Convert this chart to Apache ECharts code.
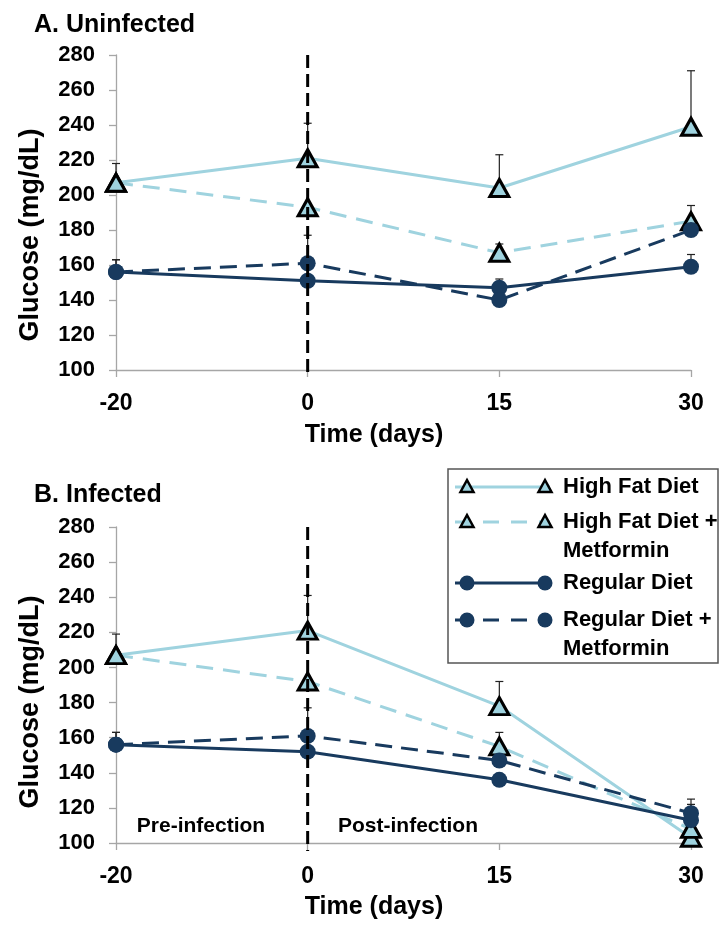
<!DOCTYPE html>
<html>
<head>
<meta charset="utf-8">
<script src="https://cdn.jsdelivr.net/npm/echarts@6/dist/echarts.min.js"></script>
<style>
  html, body { margin: 0; padding: 0; background: #ffffff; }
  #chart { width: 720px; height: 925px; }
</style>
</head>
<body>
<div id="chart"></div>
<script>
// Sampling days (categories on the time axis)
const days = ['-20', '0', '15', '30'];
const infectionDay = '0';

// Glucose axis range (mg/dL)
const glucoseMin = 100;
const glucoseMax = 280;
const glucoseStep = 20;

// A. Uninfected — mean glucose
const uninfHighFat = [207, 221, 204, 239];
const uninfHighFatMet = [207, 193, 167, 185];
const uninfRegular = [156, 151, 147, 159];
const uninfRegularMet = [156, 161, 140, 180];
// A. Uninfected — upper end of error bars (null where not shown)
const uninfHighFatErr = [218, 241, 223, 271];
const uninfHighFatMetErr = [null, null, 172, 194];
const uninfRegularErr = [163, null, 152, 166];
const uninfRegularMetErr = [163, 177, null, null];

// B. Infected — mean glucose
const infHighFat = [207, 221, 178, 103];
const infHighFatMet = [207, 192, 155, 108];
const infRegular = [156, 152, 136, 113];
const infRegularMet = [156, 161, 147, 117];
// B. Infected — upper end of error bars
const infHighFatErr = [219, 241, 192, null];
const infHighFatMetErr = [null, null, 163, null];
const infRegularErr = [163, null, null, 122];
const infRegularMetErr = [163, 177, null, 125];

// Group names
const groupNames = ['High Fat Diet', 'High Fat Diet +\nMetformin', 'Regular Diet', 'Regular Diet +\nMetformin'];

const FONT = '"Liberation Sans", Arial, sans-serif';
const LIGHT = '#9fd3df';
const NAVY = '#183a5e';
const AXIS = '#a6a6a6';

const styles = [
  { color: LIGHT, dash: 'solid', tri: true },
  { color: LIGHT, dash: [17, 10], tri: true },
  { color: NAVY, dash: 'solid', tri: false },
  { color: NAVY, dash: [17, 9], tri: false }
];

function lineSeries(values, idx, gi) {
  const s = styles[idx];
  return {
    type: 'line',
    name: groupNames[idx],
    xAxisIndex: gi, yAxisIndex: gi,
    data: values,
    symbol: s.tri ? 'triangle' : 'circle',
    symbolSize: s.tri ? [19, 17] : 16,
    lineStyle: { color: s.color, width: 3, type: s.dash },
    itemStyle: s.tri
      ? { color: LIGHT, borderColor: '#000', borderWidth: 3 }
      : { color: NAVY, borderWidth: 0 },
    z: 4,
    animation: false
  };
}

function errRender(params, api) {
  const x = api.value(0), m = api.value(1), u = api.value(2);
  const p0 = api.coord([x, m]);
  const p1 = api.coord([x, u]);
  const st = { stroke: '#222', lineWidth: 1.2 };
  return {
    type: 'group',
    children: [
      { type: 'line', shape: { x1: p0[0], y1: p0[1], x2: p1[0], y2: p1[1] }, style: st },
      { type: 'line', shape: { x1: p1[0] - 4, y1: p1[1], x2: p1[0] + 4, y2: p1[1] }, style: st }
    ]
  };
}

function errSeries(means, uppers, gi) {
  const data = [];
  uppers.forEach((u, i) => { if (u != null) data.push([i, means[i], u]); });
  return {
    type: 'custom',
    xAxisIndex: gi, yAxisIndex: gi,
    renderItem: errRender,
    encode: { x: 0, y: [1, 2] },
    data: data,
    z: 3,
    silent: true,
    animation: false
  };
}

// Dashed marker of the infection day
function infectionLine(gi) {
  return {
    type: 'custom',
    xAxisIndex: gi, yAxisIndex: gi,
    renderItem: function (params, api) {
      const top = api.coord([api.value(0), api.value(1)]);
      const bot = api.coord([api.value(0), api.value(2)]);
      return {
        type: 'line',
        shape: { x1: top[0], y1: top[1], x2: bot[0], y2: bot[1] + 8 },
        style: { stroke: '#000', lineWidth: 3, lineDash: [13, 6] }
      };
    },
    encode: { x: 0, y: [1, 2] },
    data: [[days.indexOf(infectionDay), glucoseMax, glucoseMin]],
    z: 10,
    silent: true,
    animation: false
  };
}

const grids = [
  { left: 116, top: 55, width: 575, height: 315 },
  { left: 116, top: 527, width: 575, height: 316 }
];

const xAxes = grids.map((g, i) => ({
  type: 'category',
  gridIndex: i,
  data: days,
  boundaryGap: false,
  axisLine: { lineStyle: { color: AXIS, width: 1.3 } },
  axisTick: { show: true, length: 7, lineStyle: { color: AXIS, width: 1.3 } },
  axisLabel: { color: '#000', fontFamily: FONT, fontWeight: 'bold', fontSize: 23, margin: 22 },
  splitLine: { show: false }
}));

const yAxes = grids.map((g, i) => ({
  type: 'value',
  gridIndex: i,
  min: glucoseMin, max: glucoseMax, interval: glucoseStep,
  axisLine: { show: true, lineStyle: { color: AXIS, width: 1.3 } },
  axisTick: { show: true, length: 7, lineStyle: { color: AXIS, width: 1.3 } },
  axisLabel: { color: '#000', fontFamily: FONT, fontWeight: 'bold', fontSize: 22, margin: 21 },
  splitLine: { show: false }
}));

const panels = [
  [uninfHighFat, uninfHighFatMet, uninfRegular, uninfRegularMet],
  [infHighFat, infHighFatMet, infRegular, infRegularMet]
];
const panelErrs = [
  [uninfHighFatErr, uninfHighFatMetErr, uninfRegularErr, uninfRegularMetErr],
  [infHighFatErr, infHighFatMetErr, infRegularErr, infRegularMetErr]
];

const series = [];
panels.forEach((vals, gi) => {
  vals.forEach((v, k) => series.push(errSeries(v, panelErrs[gi][k], gi)));
  vals.forEach((v, k) => series.push(lineSeries(v, k, gi)));
  series.push(infectionLine(gi));
});

const txt = (x, y, text, size, extra) => Object.assign({
  type: 'text', x: x, y: y,
  style: { text: text, fill: '#000', font: 'bold ' + size + 'px ' + FONT, textAlign: 'center', textVerticalAlign: 'middle' },
  z: 20
}, extra || {});

// Legend drawn as a boxed key
const legendRows = [
  { y: 487, k: 0, label: ['High Fat Diet'] },
  { y: 522, k: 1, label: ['High Fat Diet +', 'Metformin'] },
  { y: 583, k: 2, label: ['Regular Diet'] },
  { y: 620, k: 3, label: ['Regular Diet +', 'Metformin'] }
];
const legendEls = [{
  type: 'rect', shape: { x: 448, y: 469, width: 270, height: 194 },
  style: { fill: '#fff', stroke: '#555', lineWidth: 1.5 }, z: 15
}];
legendRows.forEach(r => {
  const s = styles[r.k];
  legendEls.push({
    type: 'line', shape: { x1: 455, y1: r.y, x2: 550, y2: r.y },
    style: { stroke: s.color, lineWidth: 3, lineDash: s.dash === 'solid' ? null : [16, 12] }, z: 16
  });
  [467, 545].forEach(cx => {
    if (s.tri) {
      legendEls.push({
        type: 'polygon', shape: { points: [[cx, r.y - 7], [cx + 6.5, r.y + 5], [cx - 6.5, r.y + 5]] },
        style: { fill: LIGHT, stroke: '#000', lineWidth: 2.5 }, z: 17
      });
    } else {
      legendEls.push({ type: 'circle', shape: { cx: cx, cy: r.y, r: 7.5 }, style: { fill: NAVY }, z: 17 });
    }
  });
  r.label.forEach((line, j) => {
    legendEls.push({
      type: 'text', x: 563, y: r.y + j * 29,
      style: { text: line, fill: '#000', font: 'bold 22px ' + FONT, textAlign: 'left', textVerticalAlign: 'middle' }, z: 17
    });
  });
});

const option = {
  backgroundColor: '#fff',
  animation: false,
  title: [
    { text: 'A. Uninfected', left: 29, top: 8, textStyle: { fontFamily: FONT, fontWeight: 'bold', fontSize: 25, color: '#000' } },
    { text: 'B. Infected', left: 29, top: 478, textStyle: { fontFamily: FONT, fontWeight: 'bold', fontSize: 25, color: '#000' } }
  ],
  grid: grids,
  xAxis: xAxes,
  yAxis: yAxes,
  series: series,
  graphic: [
    txt(374, 435, 'Time (days)', 25),
    txt(374, 907, 'Time (days)', 25),
    txt(31, 235, 'Glucose (mg/dL)', 27, { rotation: Math.PI / 2 }),
    txt(31, 702, 'Glucose (mg/dL)', 27, { rotation: Math.PI / 2 }),
    txt(201, 826, 'Pre-infection', 21),
    txt(408, 826, 'Post-infection', 21)
  ].concat(legendEls)
};

const chart = echarts.init(document.getElementById('chart'), null, { renderer: 'canvas' });
chart.setOption(option);
</script>
</body>
</html>
